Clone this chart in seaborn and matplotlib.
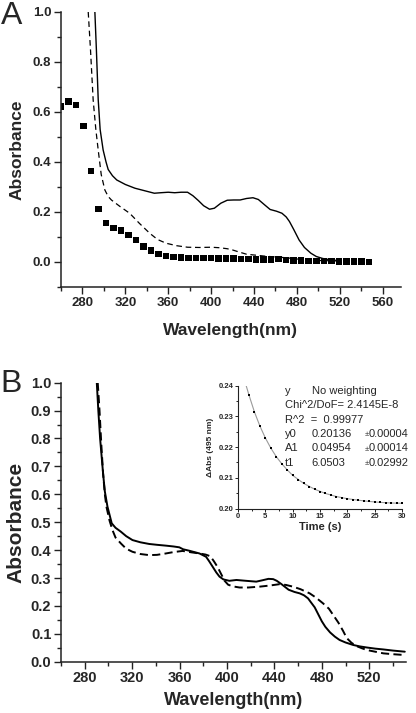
import numpy as np
import pandas as pd
import matplotlib
matplotlib.use("Agg")
import matplotlib.pyplot as plt
import seaborn as sns
from matplotlib.ticker import MultipleLocator

# ---------------- data ----------------
# Panel A
a_solid_wl = [291.6, 293, 294.7, 296.5, 299.3, 302, 304, 308, 312, 320, 329, 338, 347, 353, 360,
              366, 372, 378, 383, 388, 393, 398.5, 403, 409, 415, 421, 427, 433, 439, 444, 450,
              455, 461, 466, 470, 473, 477, 482, 487, 493, 498, 504, 512, 520]
a_solid_abs = [1.0, 0.85, 0.65, 0.53, 0.448, 0.40, 0.37, 0.345, 0.328, 0.31, 0.295, 0.285, 0.275,
               0.277, 0.279, 0.277, 0.279, 0.279, 0.265, 0.246, 0.225, 0.211, 0.215, 0.235, 0.247,
               0.248, 0.248, 0.254, 0.257, 0.25, 0.228, 0.21, 0.203, 0.195, 0.18, 0.162, 0.13,
               0.088, 0.058, 0.035, 0.022, 0.014, 0.008, 0.005]
a_dash_wl = [285.4, 287.5, 290, 292.5, 294.7, 297.5, 300.9, 304, 307, 315, 324, 333, 342.7, 350,
             358, 368, 378, 389, 400, 408, 415, 420, 426, 433, 442, 451, 460, 470, 480, 490, 500,
             510, 520]
a_dash_abs = [1.0, 0.85, 0.648, 0.53, 0.448, 0.35, 0.288, 0.262, 0.248, 0.222, 0.195, 0.155, 0.115,
              0.09, 0.075, 0.065, 0.059, 0.058, 0.059, 0.057, 0.053, 0.048, 0.04, 0.031, 0.027,
              0.023, 0.020, 0.017, 0.012, 0.008, 0.006, 0.005, 0.004]
a_sq_wl = [260, 267, 274, 281, 288, 295, 302, 309, 316, 323, 330, 337, 344, 351, 358, 365, 372,
           379, 386, 393, 400, 407, 414, 421, 428, 435, 442, 449, 456, 463, 470, 477, 484, 491,
           498, 505, 512, 519, 526, 533, 540, 547]
a_sq_abs = [0.621, 0.641, 0.627, 0.544, 0.363, 0.211, 0.155, 0.135, 0.125, 0.107, 0.088, 0.061,
            0.045, 0.031, 0.024, 0.019, 0.017, 0.016, 0.015, 0.015, 0.015, 0.014, 0.014, 0.013,
            0.012, 0.011, 0.010, 0.009, 0.009, 0.011, 0.007, 0.006, 0.005, 0.004, 0.004, 0.003,
            0.003, 0.002, 0.002, 0.001, 0.001, 0.0]

# Panel B
b_solid_wl = [290.2, 291.5, 293, 295.5, 297, 299.2, 302.8, 306, 310.5, 315, 320.3, 327, 334.4, 341,
              348.5, 355, 359.8, 363, 368, 376.8, 382.4, 385, 388, 391, 393.7, 397, 402, 408, 416,
              424.7, 430, 435, 439, 442, 446, 452, 457, 461.4, 465, 468.4, 471, 474, 477, 480,
              483, 487, 491, 495, 500, 506.5, 512, 518, 525, 532, 540, 550]
b_solid_abs = [1.0, 0.90, 0.80, 0.675, 0.61, 0.556, 0.496, 0.48, 0.466, 0.45, 0.436, 0.428, 0.422,
               0.419, 0.416, 0.413, 0.41, 0.403, 0.398, 0.388, 0.376, 0.36, 0.34, 0.32, 0.305,
               0.295, 0.29, 0.293, 0.29, 0.287, 0.292, 0.297, 0.296, 0.29, 0.278, 0.258, 0.25,
               0.245, 0.238, 0.227, 0.212, 0.195, 0.17, 0.145, 0.125, 0.105, 0.09, 0.078, 0.069,
               0.06, 0.055, 0.051, 0.047, 0.044, 0.04, 0.036]
b_dash_wl = [291, 292.5, 294, 295.5, 297, 298.3, 301, 303.4, 306, 310.5, 315, 320.3, 327, 334.4,
             341, 348.5, 355, 362.6, 370, 376.8, 382, 386, 389, 392, 395, 398, 401, 405, 410.6,
             418, 427.5, 436, 444.5, 450, 455.7, 462, 469.8, 475, 481.1, 486, 490, 494, 498, 501,
             505, 509.3, 514, 518, 525, 532, 540, 550]
b_dash_abs = [1.0, 0.90, 0.78, 0.675, 0.60, 0.556, 0.505, 0.472, 0.445, 0.424, 0.405, 0.394, 0.386,
              0.382, 0.383, 0.388, 0.393, 0.397, 0.392, 0.388, 0.384, 0.378, 0.36, 0.34, 0.315,
              0.29, 0.276, 0.27, 0.266, 0.266, 0.269, 0.273, 0.278, 0.275, 0.269, 0.26, 0.245,
              0.23, 0.209, 0.19, 0.165, 0.14, 0.11, 0.085, 0.068, 0.056, 0.048, 0.042, 0.036,
              0.030, 0.027, 0.024]

# Inset (kinetics at 495 nm)
ins_t = [2, 3, 4, 5, 6, 7, 8, 9, 10, 11, 12, 13, 14, 15, 16, 17, 18, 19, 20, 21, 22, 23, 24, 25,
         26, 27, 28, 29, 30]
ins_abs = [0.2370, 0.2315, 0.2269, 0.2230, 0.2197, 0.2169, 0.2146, 0.2126, 0.2108, 0.2094, 0.2082,
           0.2071, 0.2063, 0.2055, 0.2049, 0.2043, 0.2039, 0.2035, 0.2032, 0.2029, 0.2027, 0.2025,
           0.2023, 0.2022, 0.2020, 0.2019, 0.2018, 0.2018, 0.2017]
fit_t = [1.5, 2, 3, 4, 5, 6, 7, 8, 9, 10, 12, 14, 16, 18, 20, 22, 24, 26, 28, 30]
fit_abs = [0.2400, 0.2370, 0.2315, 0.2269, 0.2230, 0.2197, 0.2169, 0.2146, 0.2126, 0.2108, 0.2082,
           0.2063, 0.2049, 0.2039, 0.2032, 0.2027, 0.2023, 0.2020, 0.2018, 0.2017]

fit_labels = ["y", "Chi^2/DoF= 2.4145E-8", "R^2  =  0.99977", "y0", "A1", "t1"]
fit_values = ["No weighting", "", "", "0.20136", "0.04954", "6.0503"]
fit_errors = ["", "", "", "0.00004", "0.00014", "0.02992"]

# ---------------- style ----------------
sns.set_style("ticks")
plt.rcParams['font.family'] = ['Liberation Sans', 'DejaVu Sans']
plt.rcParams['axes.linewidth'] = 1.1
plt.rcParams['xtick.major.width'] = 1.0
plt.rcParams['ytick.major.width'] = 1.0
plt.rcParams['xtick.minor.width'] = 1.0
plt.rcParams['ytick.minor.width'] = 1.0

fig = plt.figure(figsize=(4.16, 7.13), dpi=100)

def style_axes(ax, tick_fs, maj=4.5, mnr=2.5):
    sns.despine(ax=ax)
    ax.tick_params(axis='both', which='major', direction='out', length=maj, labelsize=tick_fs,
                   color='#222222', pad=2)
    ax.tick_params(axis='both', which='minor', direction='out', length=mnr, color='#222222')
    for lbl in ax.get_xticklabels() + ax.get_yticklabels():
        lbl.set_fontweight('bold')
    for s in ax.spines.values():
        s.set_color('#222222')

# ---------------- Panel A ----------------
axA = fig.add_axes([0.1466, 0.5975, 0.8173, 0.3857])
sns.lineplot(x=a_solid_wl, y=a_solid_abs, ax=axA, color='black', lw=1.0, sort=False,
             estimator=None)
sns.lineplot(x=a_dash_wl, y=a_dash_abs, ax=axA, color='black', lw=0.9, sort=False,
             estimator=None, linestyle=(0, (4.5, 3)))
sns.scatterplot(x=a_sq_wl, y=a_sq_abs, ax=axA, color='black', marker='s', s=22,
                edgecolor='none', clip_on=True)
axA.set_xlim(260, 577)
axA.set_ylim(-0.1, 1.0)
axA.set_xticks([280, 320, 360, 400, 440, 480, 520, 560])
axA.xaxis.set_minor_locator(MultipleLocator(20))
axA.set_yticks([0.0, 0.2, 0.4, 0.6, 0.8, 1.0])
axA.yaxis.set_minor_locator(MultipleLocator(0.1))
axA.set_yticklabels(['0.0', '0.2', '0.4', '0.6', '0.8', '1.0'])
style_axes(axA, 9.5, maj=5, mnr=3)
axA.set_xlabel('Wavelength(nm)', fontsize=12.5, fontweight='bold', labelpad=10)
axA.set_ylabel('Absorbance', fontsize=12.5, fontweight='bold', labelpad=6)
fig.text(0.002, 0.999, 'A', fontsize=23, va='top', ha='left')

# ---------------- Panel B ----------------
axB = fig.add_axes([0.1466, 0.0719, 0.8293, 0.3914])
sns.lineplot(x=b_solid_wl, y=b_solid_abs, ax=axB, color='black', lw=1.4, sort=False,
             estimator=None)
sns.lineplot(x=b_dash_wl, y=b_dash_abs, ax=axB, color='black', lw=1.4, sort=False,
             estimator=None, linestyle=(0, (4.2, 2.2)))
axB.set_xlim(260, 551)
axB.set_ylim(0.0, 1.0)
axB.set_xticks([280, 320, 360, 400, 440, 480, 520])
axB.xaxis.set_minor_locator(MultipleLocator(20))
axB.set_yticks([0.0, 0.1, 0.2, 0.3, 0.4, 0.5, 0.6, 0.7, 0.8, 0.9, 1.0])
axB.yaxis.set_minor_locator(MultipleLocator(0.05))
axB.set_yticklabels(['0.0', '0.1', '0.2', '0.3', '0.4', '0.5', '0.6', '0.7', '0.8', '0.9', '1.0'])
style_axes(axB, 10.5, maj=5, mnr=3)
axB.set_xlabel('Wavelength(nm)', fontsize=13, fontweight='bold', labelpad=5)
axB.set_ylabel('Absorbance', fontsize=15, fontweight='bold', labelpad=4)
fig.text(0.002, 0.482, 'B', fontsize=23, va='top', ha='left')

# ---------------- Inset ----------------
axI = fig.add_axes([0.5721, 0.2868, 0.3942, 0.1722])
sns.lineplot(x=fit_t, y=fit_abs, ax=axI, color='#9a9a9a', lw=0.8, sort=False, estimator=None,
             zorder=1)
sns.scatterplot(x=ins_t, y=ins_abs, ax=axI, color='black', marker='s', s=3, linewidth=0,
                edgecolor='black', zorder=3)
axI.set_xlim(0, 30)
axI.set_ylim(0.20, 0.24)
axI.set_xticks([0, 5, 10, 15, 20, 25, 30])
axI.xaxis.set_minor_locator(MultipleLocator(2.5))
axI.set_yticks([0.20, 0.21, 0.22, 0.23, 0.24])
axI.set_yticklabels(['0.20', '0.21', '0.22', '0.23', '0.24'])
axI.yaxis.set_minor_locator(MultipleLocator(0.005))
axI.patch.set_alpha(0)
style_axes(axI, 5.5, maj=2.5, mnr=1.5)
for s in axI.spines.values():
    s.set_linewidth(0.8)
axI.tick_params(axis='both', which='both', width=0.7, pad=1)
axI.set_xlabel('Time (s)', fontsize=8, fontweight='bold', labelpad=1)
axI.set_ylabel('ΔAbs (495 nm)', fontsize=6, fontweight='bold', labelpad=3)

# fit statistics text
y0 = 391
for i, (lab, val, err) in enumerate(zip(fit_labels, fit_values, fit_errors)):
    yy = 1 - (y0 + i * 14.3) / 713
    fig.text(285 / 416, yy, lab, fontsize=8, va='center', ha='left')
    if val:
        fig.text(311.5 / 416, yy, val, fontsize=8, va='center', ha='left')
    if err:
        fig.text(365 / 416, yy - 0.0015, '±', fontsize=5.5, va='center', ha='left')
        fig.text(369 / 416, yy, err, fontsize=8, va='center', ha='left')

fig.savefig('out.png', dpi=100)
